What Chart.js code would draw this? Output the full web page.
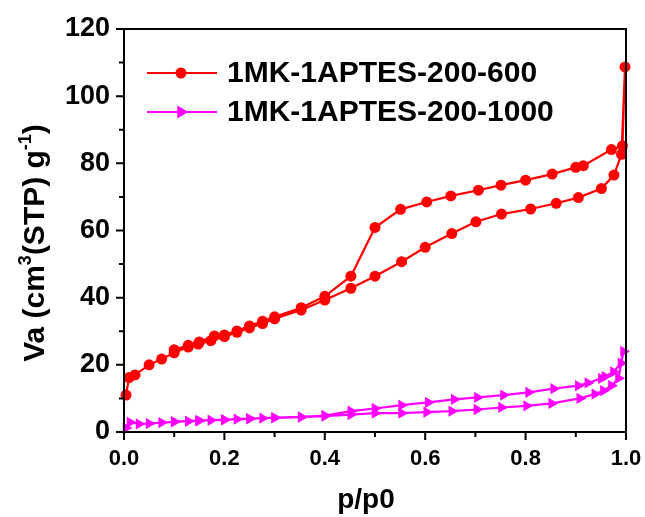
<!DOCTYPE html>
<html>
<head>
<meta charset="utf-8">
<script src="https://cdn.jsdelivr.net/npm/chart.js@4"></script>
<style>
  html, body { margin: 0; padding: 0; background: #fff; }
  #wrap { width: 645px; height: 517px; }
</style>
</head>
<body>
<div id="wrap"><canvas id="iso"></canvas></div>
<script>
// Isotherm data, p/p0 vs adsorbed volume (adsorption then desorption)
const seriesNames = ['1MK-1APTES-200-600', '1MK-1APTES-200-1000'];
const seriesColors = ['#ff0000', '#ff00ff'];

const p600 = [0.004, 0.01, 0.022, 0.05, 0.075, 0.10, 0.128, 0.148, 0.173, 0.20, 0.225, 0.25, 0.276, 0.30,
  0.353, 0.40, 0.452, 0.50, 0.553, 0.60, 0.653, 0.701, 0.752, 0.81, 0.861, 0.905, 0.951, 0.976, 0.991, 0.998,
  0.993, 0.971, 0.915, 0.90, 0.853, 0.80, 0.751, 0.706, 0.651, 0.603, 0.551, 0.50, 0.452, 0.40, 0.353,
  0.30, 0.276, 0.25, 0.225, 0.20, 0.18, 0.15, 0.128, 0.10];
const v600 = [11.0, 16.2, 17.0, 20.0, 21.7, 23.6, 25.3, 26.2, 27.2, 28.4, 29.7, 31.0, 32.3, 33.7,
  36.3, 39.3, 42.8, 46.4, 50.7, 55.0, 59.1, 62.6, 64.9, 66.4, 68.1, 69.8, 72.5, 76.5, 82.7, 108.7,
  85.2, 84.1, 79.3, 78.8, 76.8, 75.0, 73.5, 72.0, 70.3, 68.5, 66.3, 60.9, 46.4, 40.4, 37.0,
  34.3, 33.0, 31.6, 30.1, 28.9, 28.6, 26.8, 25.8, 24.5];

const p1000 = [0.004, 0.012, 0.03, 0.05, 0.075, 0.10, 0.128, 0.148, 0.173, 0.20, 0.225, 0.25, 0.276, 0.30,
  0.353, 0.40, 0.452, 0.50, 0.553, 0.603, 0.653, 0.703, 0.752, 0.802, 0.852, 0.908, 0.938, 0.955, 0.971, 0.985, 0.995,
  0.99, 0.975, 0.958, 0.951, 0.924, 0.905, 0.856, 0.806, 0.756, 0.704, 0.658, 0.606, 0.553, 0.50, 0.452,
  0.40, 0.353, 0.30, 0.25, 0.20, 0.15, 0.10];
const v1000 = [1.2, 2.9, 2.4, 2.5, 2.8, 3.0, 3.2, 3.3, 3.5, 3.6, 3.8, 3.9, 4.1, 4.2,
  4.4, 4.7, 5.2, 5.6, 5.6, 5.9, 6.2, 6.7, 7.3, 7.8, 8.5, 10.0, 11.3, 12.3, 13.8, 16.0, 24.0,
  20.5, 17.9, 16.5, 16.0, 14.6, 13.8, 12.9, 11.8, 11.0, 10.3, 9.7, 8.8, 8.0, 7.0, 6.2,
  4.9, 4.5, 4.3, 4.0, 3.7, 3.4, 3.1];

const xTicks = [0, 0.2, 0.4, 0.6, 0.8, 1.0];
const yTicks = [0, 20, 40, 60, 80, 100, 120];

const FONT = '"Liberation Sans", Arial, sans-serif';

function toPoints(xs, ys) {
  return xs.map((x, i) => ({ x: x, y: ys[i] }));
}

// frame, major/minor ticks, axis titles and legend
const decorations = {
  id: 'decorations',
  afterDatasetsDraw(chart) {
    const ctx = chart.ctx;
    const a = chart.chartArea;
    const xs = chart.scales.x, ys = chart.scales.y;
    ctx.save();
    ctx.strokeStyle = '#000';
    ctx.lineWidth = 2;
    ctx.strokeRect(a.left, a.top, a.right - a.left, a.bottom - a.top);

    ctx.beginPath();
    for (let i = 0; i <= 10; i++) {
      const px = xs.getPixelForValue(i / 10);
      const len = i % 2 === 0 ? 8 : 5;
      ctx.moveTo(px, a.bottom);
      ctx.lineTo(px, a.bottom + len);
    }
    for (let i = 0; i <= 12; i++) {
      const py = ys.getPixelForValue(i * 10);
      const len = i % 2 === 0 ? 8 : 5;
      ctx.moveTo(a.left, py);
      ctx.lineTo(a.left - len, py);
    }
    ctx.stroke();

    // x title
    ctx.fillStyle = '#000';
    ctx.font = 'bold 28px ' + FONT;
    ctx.textAlign = 'center';
    ctx.textBaseline = 'alphabetic';
    ctx.fillText('p/p0', 366, 508);

    // y title with superscripts
    const parts = [
      ['Va (cm', false], ['3', true], ['(STP) g', false], ['-1', true], [')', false]
    ];
    const big = 'bold 30px ' + FONT, small = 'bold 18px ' + FONT;
    let total = 0;
    parts.forEach(p => { ctx.font = p[1] ? small : big; total += ctx.measureText(p[0]).width; });
    ctx.translate(44, 243);
    ctx.rotate(-Math.PI / 2);
    ctx.textAlign = 'left';
    let cx = -total / 2;
    parts.forEach(p => {
      ctx.font = p[1] ? small : big;
      ctx.fillText(p[0], cx, p[1] ? -13 : 0);
      cx += ctx.measureText(p[0]).width;
    });
    ctx.setTransform(1, 0, 0, 1, 0, 0);

    // legend
    const rows = [73, 112];
    chart.data.datasets.forEach((ds, i) => {
      const y = rows[i];
      ctx.strokeStyle = ds.borderColor;
      ctx.lineWidth = 2;
      ctx.beginPath();
      ctx.moveTo(147, y);
      ctx.lineTo(217, y);
      ctx.stroke();
      Chart.helpers.drawPoint(ctx, {
        pointStyle: ds.pointStyle, rotation: ds.rotation || 0,
        radius: ds.pointRadius - 1, borderWidth: 1
      }, 181, y);
      ctx.fillStyle = ds.borderColor;
      ctx.fill();
      ctx.fillStyle = '#000';
      ctx.font = 'bold 30px ' + FONT;
      ctx.textAlign = 'left';
      ctx.textBaseline = 'middle';
      ctx.fillText(ds.label, 227, y + 1);
    });
    ctx.restore();
  }
};

new Chart(document.getElementById('iso'), {
  type: 'scatter',
  data: {
    datasets: [
      {
        label: seriesNames[0],
        data: toPoints(p600, v600),
        showLine: true,
        borderColor: seriesColors[0],
        backgroundColor: seriesColors[0],
        borderWidth: 2.2,
        pointStyle: 'circle',
        pointRadius: 5.5,
        pointBorderWidth: 0,
        clip: false
      },
      {
        label: seriesNames[1],
        data: toPoints(p1000, v1000),
        showLine: true,
        borderColor: seriesColors[1],
        backgroundColor: seriesColors[1],
        borderWidth: 2.2,
        pointStyle: 'triangle',
        rotation: 90,
        pointRadius: 6.5,
        pointBorderWidth: 0,
        clip: false
      }
    ]
  },
  options: {
    responsive: true,
    maintainAspectRatio: false,
    animation: false,
    layout: { padding: { top: 29, right: 19, left: 0, bottom: 0 } },
    plugins: { legend: { display: false }, tooltip: { enabled: false } },
    scales: {
      x: {
        type: 'linear', min: 0, max: 1,
        afterBuildTicks: s => { s.ticks = xTicks.map(v => ({ value: v })); },
        afterFit: s => { s.height = 85; s.paddingLeft = 0; s.paddingRight = 0; },
        grid: { display: false, drawTicks: false },
        border: { display: false },
        ticks: {
          padding: 14, color: '#000',
          font: { family: FONT, size: 22, weight: 'bold' },
          callback: v => v.toFixed(1)
        }
      },
      y: {
        type: 'linear', min: 0, max: 120,
        afterBuildTicks: s => { s.ticks = yTicks.map(v => ({ value: v })); },
        afterFit: s => { s.width = 124; s.paddingTop = 0; s.paddingBottom = 0; },
        grid: { display: false, drawTicks: false },
        border: { display: false },
        ticks: {
          padding: 14, color: '#000',
          font: { family: FONT, size: 27, weight: 'bold' }
        }
      }
    }
  },
  plugins: [decorations]
});
</script>
</body>
</html>
